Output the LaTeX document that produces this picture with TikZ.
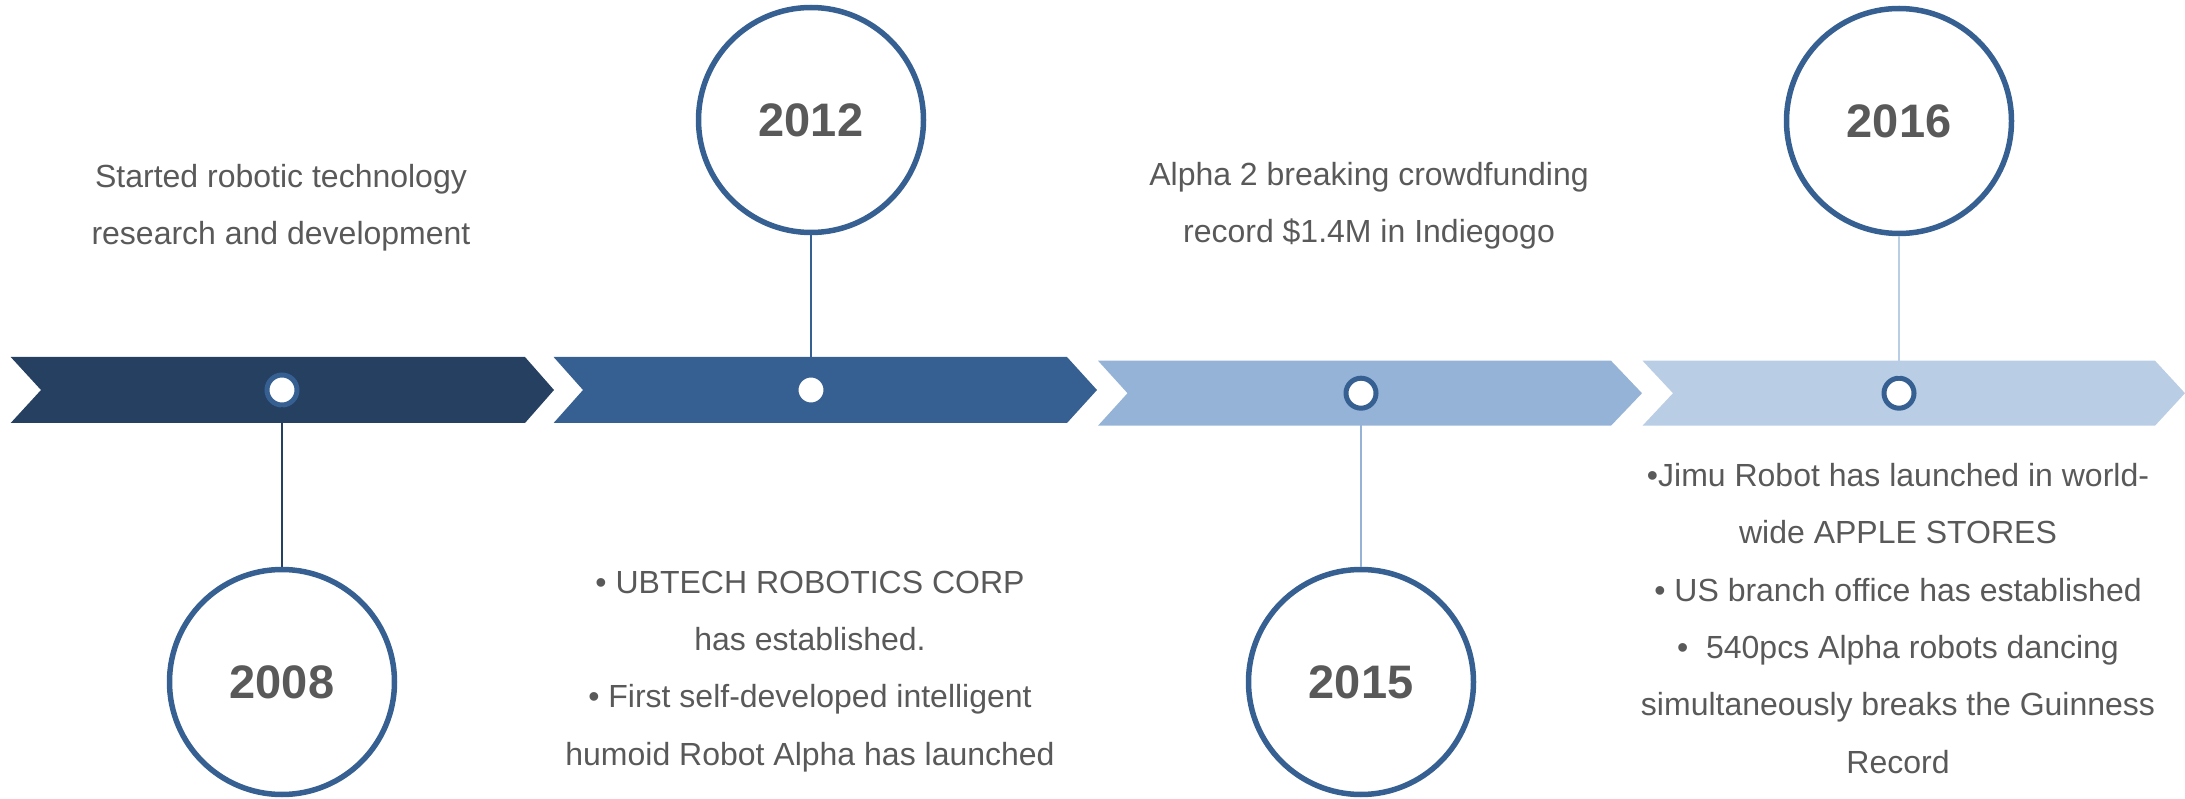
\documentclass[tikz,border=0pt]{standalone}
\usepackage{fontspec}
\setmainfont{Liberation Sans}
\definecolor{cA}{HTML}{254061}
\definecolor{cB}{HTML}{376092}
\definecolor{cC}{HTML}{95B3D7}
\definecolor{cD}{HTML}{B9CDE5}
\definecolor{ring}{HTML}{376092}
\definecolor{txt}{HTML}{595959}
\begin{document}
\begin{tikzpicture}[x=1pt,y=-1pt,
  body/.style={text=txt, align=center, font=\fontsize{32}{57.3}\selectfont, inner sep=0pt, anchor=base},
  year/.style={circle, draw=ring, line width=5.5pt, fill=white, minimum size=225pt, inner sep=0pt, text=txt, font=\fontsize{47}{56}\selectfont\bfseries},
  dot/.style={circle, draw=ring, line width=5pt, fill=white, minimum size=30pt, inner sep=0pt},
  link/.style={line width=2.5pt}
]
\useasboundingbox (0,0) rectangle (2185,799);
% chevrons
\fill[cA] (10.7,357) -- (525,357) -- (554,390) -- (525,423) -- (10.7,423) -- (41,390) -- cycle;
\fill[cB] (553.6,357) -- (1067,357) -- (1097,390) -- (1067,423) -- (553.6,423) -- (583,390) -- cycle;
\fill[cC] (1098,360.7) -- (1611,360.7) -- (1642,393.2) -- (1611,425.7) -- (1098,425.7) -- (1127.5,393.2) -- cycle;
\fill[cD] (1642.5,360.7) -- (2155,360.7) -- (2185,393.2) -- (2155,425.7) -- (1642.5,425.7) -- (1673,393.2) -- cycle;
% year circles
\node[year] (y1) at (282,682) {2008};
\node[year] (y2) at (811,120) {2012};
\node[year] (y3) at (1361,682) {2015};
\node[year] (y4) at (1899,121) {2016};
% dots
\node[dot] (d1) at (282,390) {};
\node[dot] (d2) at (811,390) {};
\node[dot] (d3) at (1361,393.2) {};
\node[dot] (d4) at (1899,393.2) {};
% connectors
\draw[link, cA] (d1) -- (y1);
\draw[link, cB] (d2) -- (y2);
\draw[link, cC] (d3) -- (y3);
\draw[link, cD] (d4) -- (y4);
% texts (anchor = baseline of last line)
\node[body] (t1) at (281,245) {Started robotic technology\\research and development};
\node[body] (t2) at (810,765) {• UBTECH ROBOTICS CORP\\has established.\\• First self-developed intelligent\\humoid Robot Alpha has launched};
\node[body] (t3) at (1369,243) {Alpha 2 breaking crowdfunding\\record \$1.4M in Indiegogo};
\node[body] (t4) at (1898,773) {•Jimu Robot has launched in world-\\wide APPLE STORES\\• US branch office has established\\•\ \ 540pcs Alpha robots dancing\\simultaneously breaks the Guinness\\Record};
\end{tikzpicture}
\end{document}
